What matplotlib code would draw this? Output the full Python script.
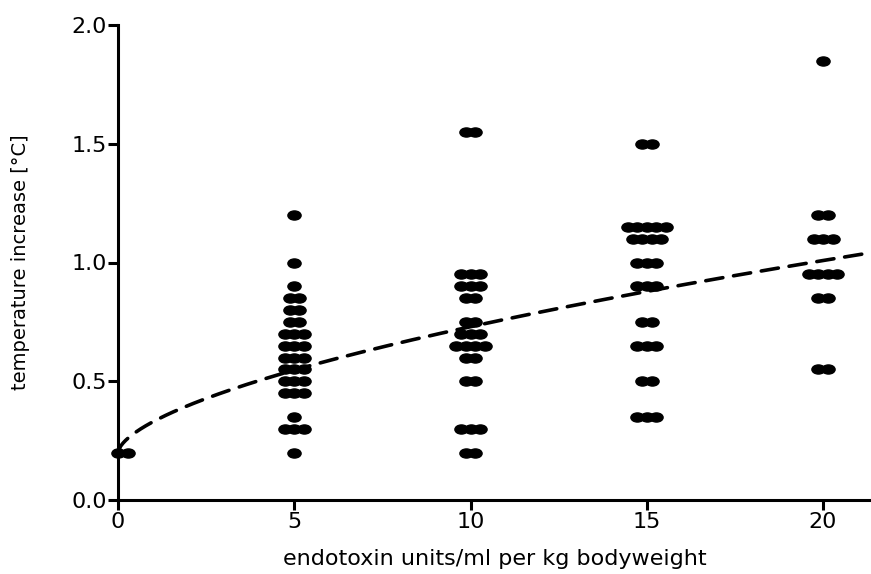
import matplotlib.pyplot as plt
import numpy as np
from matplotlib.path import Path

# Dose groups and the temperature rises seen in each (value, number of animals)
dose_groups = [0, 5, 10, 15, 20]
rise_values = [
    [0.20],
    [1.20, 1.00, 0.90, 0.85, 0.80, 0.75, 0.70, 0.65, 0.60, 0.55, 0.50, 0.45, 0.35, 0.30, 0.20],
    [1.55, 0.95, 0.90, 0.85, 0.75, 0.70, 0.65, 0.60, 0.50, 0.30, 0.20],
    [1.50, 1.15, 1.10, 1.00, 0.90, 0.75, 0.65, 0.50, 0.35],
    [1.85, 1.20, 1.10, 0.95, 0.85, 0.55],
]
rise_counts = [
    [2],
    [1, 1, 1, 2, 2, 2, 3, 3, 3, 3, 3, 3, 1, 3, 1],
    [2, 3, 3, 2, 2, 3, 4, 2, 2, 3, 2],
    [2, 5, 4, 3, 3, 2, 3, 2, 3],
    [1, 2, 3, 4, 2, 2],
]

# power fit through all animals: y = a + b * x**c
fit_a, fit_b, fit_c = 0.20, 0.13, 0.61

x_ticks = [0, 5, 10, 15, 20]
y_ticks = [0.0, 0.5, 1.0, 1.5, 2.0]

x_max = 21.36
spread = 0.27

# wide oval dot
circle = Path.unit_circle()
dot = Path(circle.vertices * np.array([1.45, 1.0]), circle.codes)

fig = plt.figure(figsize=(8.71, 5.74), dpi=100)
ax = fig.add_axes([118 / 871, 74 / 574, 1 - 118 / 871, 475 / 574])

xs, ys = [], []
for dose, values, counts in zip(dose_groups, rise_values, rise_counts):
    shift = spread / 2 if dose == 0 else 0.0
    for v, n in zip(values, counts):
        offsets = (np.arange(n) - (n - 1) / 2) * spread + shift
        xs.extend(dose + offsets)
        ys.extend([v] * n)

ax.plot(xs, ys, linestyle="none", marker=dot, markersize=9.5,
        color="black", clip_on=False, zorder=3)

fx = np.linspace(0, x_max, 300)
fy = fit_a + fit_b * fx ** fit_c
ax.plot(fx, fy, color="black", linewidth=2.6, dashes=(4.8, 3.0),
        dash_capstyle="round", zorder=4)

ax.set_xlim(0, x_max)
ax.set_ylim(0, 2.0)
ax.set_xticks(x_ticks)
ax.set_yticks(y_ticks)
ax.set_yticklabels([f"{t:.1f}" for t in y_ticks])

for side in ("top", "right"):
    ax.spines[side].set_visible(False)
for side in ("left", "bottom"):
    ax.spines[side].set_linewidth(2.2)

ax.tick_params(direction="out", length=7, width=2.2, labelsize=16, colors="black")
ax.tick_params(axis="y", pad=1)
ax.tick_params(axis="x", pad=2)

ax.set_xlabel("endotoxin units/ml per kg bodyweight", fontsize=16, labelpad=12)
ax.set_ylabel("temperature increase [°C]", fontsize=14, labelpad=30)

fig.savefig("out.png", dpi=100)
